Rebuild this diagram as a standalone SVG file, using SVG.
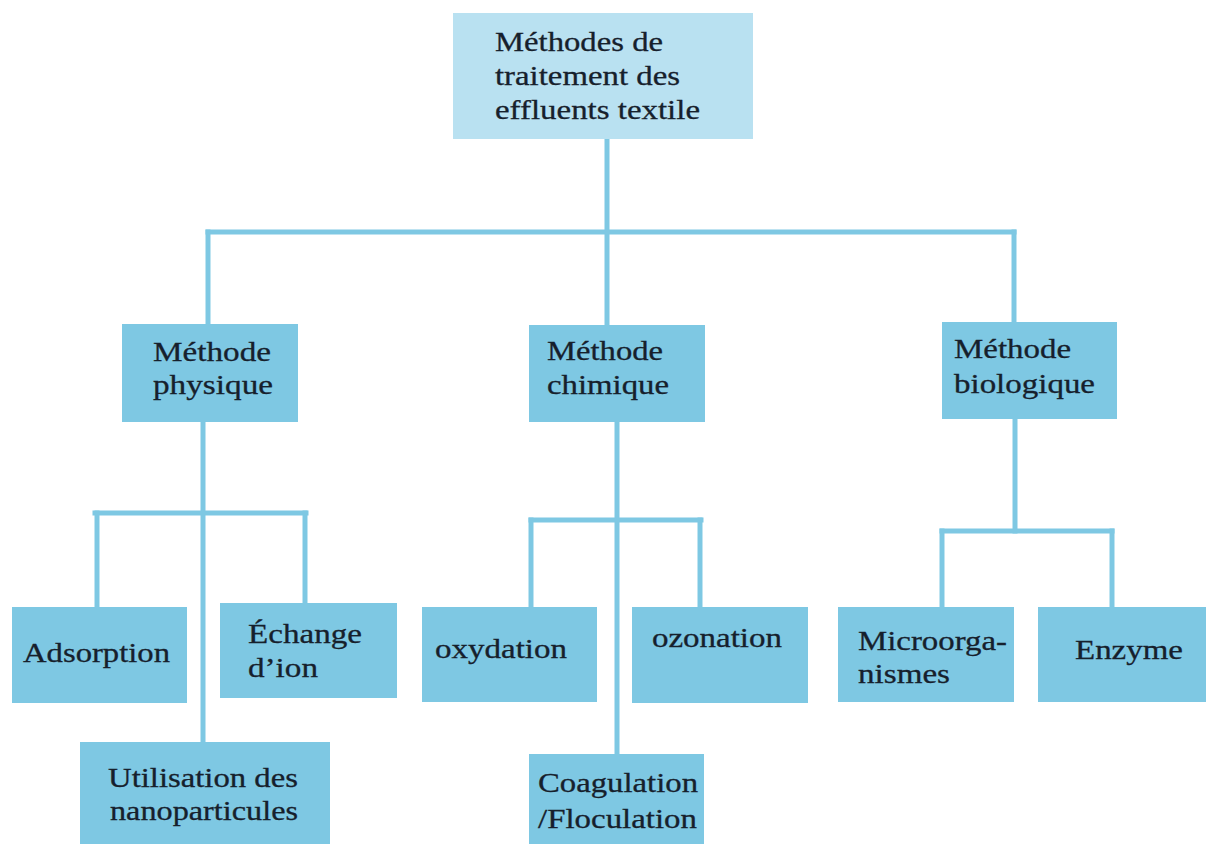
<svg xmlns="http://www.w3.org/2000/svg" width="1206" height="844" viewBox="0 0 1206 844">
  <style>
    .box { fill: #7ec8e3; }
    .root { fill: #b9e1f1; }
    .lbl { font-family: "Liberation Serif", "Times New Roman", serif; font-size: 28px; fill: #16202c; stroke: #16202c; stroke-width: 0.3; }
    .wire { fill: none; stroke: #7ec8e3; stroke-width: 5; stroke-linecap: square; }
  </style>
  <rect width="1206" height="844" fill="#ffffff"/>

  <!-- tree connectors -->
  <g id="connectors" class="wire">
    <path d="M607 139 V325"/>
    <path d="M208 232 H1014"/>
    <path d="M208 232 V324"/>
    <path d="M1014 232 V322"/>
    <!-- physical branch -->
    <path d="M203 422 V742"/>
    <path d="M95 513 H306"/>
    <path d="M97 513 V607"/>
    <path d="M305 513 V603"/>
    <!-- chemical branch -->
    <path d="M617 422 V754"/>
    <path d="M531 520 H701"/>
    <path d="M531 520 V607"/>
    <path d="M700 520 V607"/>
    <!-- biological branch -->
    <path d="M1015 419 V531"/>
    <path d="M942 531 H1112"/>
    <path d="M942 531 V607"/>
    <path d="M1112 531 V607"/>
  </g>

  <g id="root">
    <rect class="root" x="453" y="13" width="300" height="126"/>
    <text class="lbl"><tspan x="495" y="51" textLength="168" lengthAdjust="spacingAndGlyphs">Méthodes de</tspan><tspan x="495" y="85" textLength="185" lengthAdjust="spacingAndGlyphs">traitement des</tspan><tspan x="495" y="119" textLength="205" lengthAdjust="spacingAndGlyphs">effluents textile</tspan></text>
  </g>

  <g id="physique">
    <rect class="box" x="122" y="324" width="176" height="98"/>
    <text class="lbl"><tspan x="153" y="361" textLength="118" lengthAdjust="spacingAndGlyphs">Méthode</tspan><tspan x="153" y="394" textLength="120" lengthAdjust="spacingAndGlyphs">physique</tspan></text>
  </g>

  <g id="chimique">
    <rect class="box" x="529" y="325" width="176" height="97"/>
    <text class="lbl"><tspan x="547" y="360" textLength="116" lengthAdjust="spacingAndGlyphs">Méthode</tspan><tspan x="547" y="394" textLength="122" lengthAdjust="spacingAndGlyphs">chimique</tspan></text>
  </g>

  <g id="biologique">
    <rect class="box" x="942" y="322" width="175" height="97"/>
    <text class="lbl"><tspan x="954" y="358" textLength="117" lengthAdjust="spacingAndGlyphs">Méthode</tspan><tspan x="954" y="393" textLength="141" lengthAdjust="spacingAndGlyphs">biologique</tspan></text>
  </g>

  <g id="adsorption">
    <rect class="box" x="12" y="607" width="175" height="96"/>
    <text class="lbl" x="23" y="662" textLength="147" lengthAdjust="spacingAndGlyphs">Adsorption</text>
  </g>

  <g id="echange-ion">
    <rect class="box" x="220" y="603" width="177" height="95"/>
    <text class="lbl"><tspan x="248" y="643" textLength="114" lengthAdjust="spacingAndGlyphs">Échange</tspan><tspan x="248" y="677" textLength="70" lengthAdjust="spacingAndGlyphs">d’ion</tspan></text>
  </g>

  <g id="nanoparticules">
    <rect class="box" x="80" y="742" width="250" height="110"/>
    <text class="lbl"><tspan x="108" y="787" textLength="190" lengthAdjust="spacingAndGlyphs">Utilisation des</tspan><tspan x="110" y="820" textLength="188" lengthAdjust="spacingAndGlyphs">nanoparticules</tspan></text>
  </g>

  <g id="oxydation">
    <rect class="box" x="422" y="607" width="175" height="95"/>
    <text class="lbl" x="435" y="658" textLength="132" lengthAdjust="spacingAndGlyphs">oxydation</text>
  </g>

  <g id="ozonation">
    <rect class="box" x="632" y="607" width="176" height="96"/>
    <text class="lbl" x="652" y="647" textLength="130" lengthAdjust="spacingAndGlyphs">ozonation</text>
  </g>

  <g id="coagulation">
    <rect class="box" x="529" y="754" width="175" height="98"/>
    <text class="lbl"><tspan x="538" y="792" textLength="160" lengthAdjust="spacingAndGlyphs">Coagulation</tspan><tspan x="538" y="828" textLength="159" lengthAdjust="spacingAndGlyphs">/Floculation</tspan></text>
  </g>

  <g id="microorganismes">
    <rect class="box" x="838" y="607" width="176" height="95"/>
    <text class="lbl"><tspan x="858" y="650" textLength="149" lengthAdjust="spacingAndGlyphs">Microorga-</tspan><tspan x="858" y="683" textLength="92" lengthAdjust="spacingAndGlyphs">nismes</tspan></text>
  </g>

  <g id="enzyme">
    <rect class="box" x="1038" y="607" width="170" height="95"/>
    <text class="lbl" x="1075" y="659" textLength="108" lengthAdjust="spacingAndGlyphs">Enzyme</text>
  </g>
</svg>
